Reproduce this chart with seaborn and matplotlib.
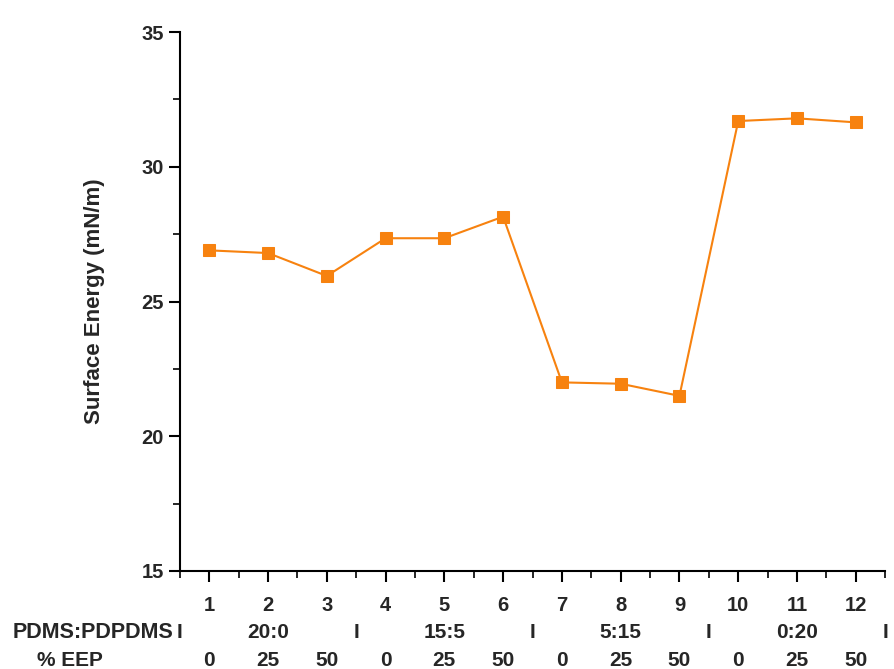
import matplotlib
matplotlib.use("Agg")
import matplotlib.pyplot as plt
import matplotlib.transforms as mtransforms
from matplotlib.ticker import MultipleLocator
import seaborn as sns
import pandas as pd

samples = [1, 2, 3, 4, 5, 6, 7, 8, 9, 10, 11, 12]
surface_energy = [26.9, 26.8, 25.95, 27.35, 27.35, 28.15, 22.0, 21.95, 21.5, 31.7, 31.8, 31.65]
ratio_labels = ["20:0", "15:5", "5:15", "0:20"]
eep_labels = ["0", "25", "50", "0", "25", "50", "0", "25", "50", "0", "25", "50"]

df = pd.DataFrame({"sample": samples, "energy": surface_energy})

sns.set_style("ticks")
FONT = ["Liberation Sans", "DejaVu Sans"]
plt.rcParams["font.family"] = FONT
plt.rcParams["font.weight"] = "bold"

fig = plt.figure(figsize=(8.95, 6.69), dpi=100)
ax = fig.add_axes([0.201, 0.1465, 0.788, 0.8055])

color = "#F7820F"
sns.lineplot(data=df, x="sample", y="energy", ax=ax, color=color, marker="s",
             markersize=9, markeredgecolor=color, linewidth=1.5)

ax.set_xlim(0.5, 12.5)
ax.set_ylim(15, 35)
ax.xaxis.set_major_locator(MultipleLocator(1))
ax.xaxis.set_minor_locator(MultipleLocator(0.5))
ax.yaxis.set_major_locator(MultipleLocator(5))
ax.yaxis.set_minor_locator(MultipleLocator(2.5))
ax.tick_params(axis="both", which="major", length=8, width=1.5, direction="out",
               labelsize=14.5, color="black")
ax.tick_params(axis="both", which="minor", length=5, width=1.2, direction="out", color="black")
ax.tick_params(axis="x", pad=10)
ax.set_xticks(samples)
ax.set_xticklabels([str(s) for s in samples], fontweight="bold")
for t in ax.get_yticklabels():
    t.set_fontweight("bold")
for side in ["top", "right"]:
    ax.spines[side].set_visible(False)
for side in ["left", "bottom"]:
    ax.spines[side].set_linewidth(1.5)
    ax.spines[side].set_color("black")

ax.set_xlabel("")
ax.set_ylabel("Surface Energy (mN/m)", fontsize=16, fontweight="bold", labelpad=26)

trans = mtransforms.blended_transform_factory(ax.transData, fig.transFigure)
y1 = 1 - 632 / 669
y2 = 1 - 661 / 669
ax.text(0.39, y1, "PDMS:PDPDMS", transform=trans, ha="right", va="center",
        fontsize=15.5, fontweight="bold")
for xs in [0.5, 3.5, 6.5, 9.5, 12.5]:
    ax.text(xs, y1, "I", transform=trans, ha="center", va="center",
            fontsize=15, fontweight="bold")
for i, lab in enumerate(ratio_labels):
    ax.text(2 + 3 * i, y1, lab, transform=trans, ha="center", va="center",
            fontsize=15, fontweight="bold")
ax.text(70 / 895, y2, "% EEP", transform=fig.transFigure, ha="center", va="center",
        fontsize=15, fontweight="bold")
for s, lab in zip(samples, eep_labels):
    ax.text(s, y2, lab, transform=trans, ha="center", va="center",
            fontsize=15, fontweight="bold")

fig.savefig("out.png", dpi=100)
